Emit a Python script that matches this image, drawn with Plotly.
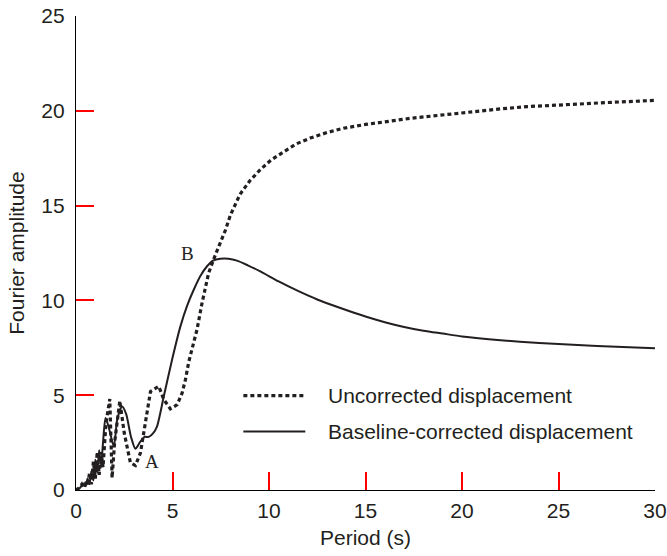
import plotly.graph_objects as go

# Fourier amplitude spectra of displacement vs. period
period_uncorr = [0.0, 0.15, 0.3, 0.4, 0.5, 0.6, 0.7, 0.8, 0.9, 1.0, 1.1, 1.2, 1.3, 1.4,
                 1.55, 1.75, 1.87, 2.0, 2.27, 2.5, 2.82, 3.08, 3.34, 3.6, 3.86, 4.29,
                 4.55, 4.89, 5.24, 5.5, 5.67, 5.84, 6.27, 6.53, 6.87, 7.22, 7.48, 7.74,
                 8.0, 8.5, 9.0, 9.55, 10.1, 10.76, 11.4, 12.14, 13.0, 13.86, 15.0, 16.1,
                 17.3, 18.52, 19.6, 20.77, 22.0, 23.35, 24.6, 25.94, 27.2, 28.53, 30.0]
amp_uncorr = [0.0, 0.1, 0.3, 0.1, 0.5, 0.2, 0.9, 0.3, 1.5, 0.6, 2.0, 0.8, 2.0, 1.2,
              3.5, 4.8, 0.64, 2.5, 4.7, 3.0, 1.43, 1.29, 1.96, 3.7, 5.2, 5.47,
              4.77, 4.28, 4.5, 5.12, 5.82, 6.75, 8.46, 9.86, 11.44, 12.4, 13.0, 13.7,
              14.5, 15.6, 16.3, 16.9, 17.4, 17.85, 18.25, 18.56, 18.85, 19.08, 19.28, 19.43,
              19.6, 19.73, 19.85, 19.96, 20.1, 20.22, 20.3, 20.35, 20.42, 20.49, 20.55]

period_corr = [0.0, 0.2, 0.35, 0.5, 0.6, 0.7, 0.8, 0.9, 1.0, 1.1, 1.2, 1.3, 1.4, 1.53,
               1.7, 1.96, 2.15, 2.39, 2.6, 2.85, 3.08, 3.3, 3.55, 3.77, 4.0, 4.2, 4.55,
               4.98, 5.41, 5.75, 6.1, 6.45, 6.79, 7.1, 7.48, 7.9, 8.34, 8.9, 9.55, 10.5,
               11.5, 12.5, 13.7, 15.0, 16.0, 17.0, 18.0, 19.0, 20.0, 22.0, 24.0, 26.0,
               28.0, 30.0]
amp_corr = [0.0, 0.1, 0.3, 0.2, 0.6, 0.3, 1.0, 0.5, 1.6, 0.9, 2.1, 1.3, 2.5, 3.8,
            3.3, 2.3, 3.8, 4.4, 4.0, 2.8, 2.17, 2.5, 2.8, 2.8, 3.0, 3.36, 4.94,
            6.88, 8.63, 9.7, 10.56, 11.3, 11.8, 12.1, 12.2, 12.2, 12.1, 11.85, 11.53, 11.0,
            10.5, 10.05, 9.6, 9.15, 8.85, 8.6, 8.4, 8.25, 8.1, 7.9, 7.75, 7.65,
            7.55, 7.48]

x_ticks = [0, 5, 10, 15, 20, 25, 30]
y_ticks = [0, 5, 10, 15, 20, 25]

series_names = ["Uncorrected displacement", "Baseline-corrected displacement"]
point_labels = [("A", 3.96, 1.5), ("B", 5.77, 12.45)]

sans = "Liberation Sans, Arial, sans-serif"
serif = "Liberation Serif, Times New Roman, serif"
ink = "#231f20"
FS = 21

fig = go.Figure()
fig.add_trace(go.Scatter(
    x=period_uncorr, y=amp_uncorr, mode="lines", name=series_names[0],
    line=dict(color=ink, width=3.2, dash="4px,3px"), showlegend=False))
fig.add_trace(go.Scatter(
    x=period_corr, y=amp_corr, mode="lines", name=series_names[1],
    line=dict(color=ink, width=2, shape="spline", smoothing=0.7), showlegend=False))

# Hand-placed legend: line samples with labels to their right
legend_rows = [(series_names[0], "4px,3px", 3.2, 396), (series_names[1], "solid", 2, 432)]
W, H = 667, 556
ml, mr, mt, mb = 75.5, 12, 16, 65.5
pw, ph = W - ml - mr, H - mt - mb

def px(xp):
    return (xp - ml) / pw

def py(yp):
    return (H - mb - yp) / ph

for name, dash, width, yp in legend_rows:
    fig.add_shape(type="line", xref="paper", yref="paper",
                  x0=px(243), x1=px(305), y0=py(yp), y1=py(yp),
                  line=dict(color=ink, width=width, dash=dash))
    fig.add_annotation(xref="paper", yref="paper", x=px(326), y=py(yp),
                       text=name, showarrow=False, xanchor="left", yanchor="middle",
                       font=dict(family=sans, size=FS, color=ink))

for txt, xv, yv in point_labels:
    fig.add_annotation(x=xv, y=yv, text=txt, showarrow=False,
                       xanchor="center", yanchor="middle",
                       font=dict(family=serif, size=19, color=ink))

axis_common = dict(showline=True, linecolor="black", linewidth=1.4, ticks="inside",
                   ticklen=18, tickwidth=1.8, tickcolor="red", showgrid=False,
                   zeroline=False, mirror=False, automargin=False, layer="above traces",
                   tickfont=dict(family=sans, size=FS, color=ink))

fig.update_xaxes(range=[0, 30], tickmode="array", tickvals=x_ticks,
                 ticktext=[str(v) for v in x_ticks], ticklabelstandoff=2,
                 title=dict(text="Period (s)", font=dict(family=sans, size=FS, color=ink),
                            standoff=8), **axis_common)
fig.update_yaxes(range=[0, 25], tickmode="array", tickvals=y_ticks,
                 ticktext=[str(v) for v in y_ticks], ticklabelstandoff=6,
                 title=dict(text="Fourier amplitude", font=dict(family=sans, size=FS, color=ink),
                            standoff=10), **axis_common)

fig.update_layout(width=W, height=H, plot_bgcolor="white", paper_bgcolor="white",
                  margin=dict(l=ml, r=mr, t=mt, b=mb), showlegend=False)

fig.write_html("out.html")
